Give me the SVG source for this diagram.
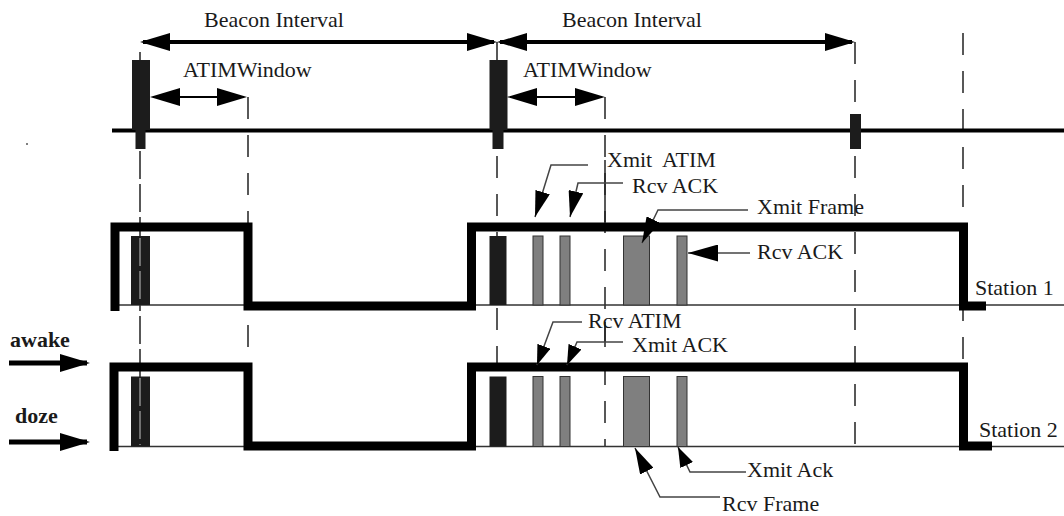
<svg xmlns="http://www.w3.org/2000/svg" width="1064" height="516" viewBox="0 0 1064 516">
<style>
  text { font-family: "Liberation Serif", "Times New Roman", serif; font-size: 22px; fill: #1a1a1a; white-space: pre; }
  .bold { font-weight: bold; font-size: 22px; }
  .guide { stroke: #222; stroke-width: 1.5; stroke-dasharray: 22 16; fill: none; }
  .solid { stroke: #222; stroke-width: 1.5; fill: none; }
  .wave { stroke: #000; stroke-width: 9; fill: none; stroke-linejoin: miter; }
  .base { stroke: #333; stroke-width: 1.5; }
  .beacon { fill: #1c1c1c; }
  .frame { fill: #7f7f7f; stroke: #333; stroke-width: 1; }
  .leader { stroke: #444; stroke-width: 1.5; fill: none; }
  .heavy { stroke: #000; stroke-width: 4; fill: none; }
  .thin { stroke: #000; stroke-width: 2; fill: none; }
</style>
<defs>
  <marker id="hd" markerUnits="userSpaceOnUse" viewBox="0 0 30 18" refX="27" refY="9" markerWidth="30" markerHeight="18" orient="auto-start-reverse">
    <path d="M0,0 L30,9 L0,18 z" fill="#000"/>
  </marker>
  <marker id="ld" markerUnits="userSpaceOnUse" viewBox="0 0 26 15" refX="26" refY="7.5" markerWidth="26" markerHeight="15" orient="auto">
    <path d="M0,0 L26,7.5 L0,15 z" fill="#000"/>
  </marker>
  <marker id="lb" markerUnits="userSpaceOnUse" viewBox="0 0 30 17" refX="30" refY="8.5" markerWidth="30" markerHeight="17" orient="auto">
    <path d="M0,0 L30,8.5 L0,17 z" fill="#000"/>
  </marker>
  <marker id="lds" markerUnits="userSpaceOnUse" viewBox="0 0 20 14" refX="20" refY="7" markerWidth="20" markerHeight="14" orient="auto">
    <path d="M0,0 L20,7 L0,14 z" fill="#000"/>
  </marker>
</defs>

<circle cx="27" cy="144" r="1" fill="#555"/>

<g id="guides">
  <line class="guide" x1="140" y1="52" x2="140" y2="446" style="stroke-dasharray:28 5"/>
  <line class="guide" x1="248" y1="97" x2="248" y2="446"/>
  <line class="guide" x1="497" y1="42" x2="497" y2="446"/>
  <line class="guide" x1="605" y1="97" x2="605" y2="446"/>
  <line class="solid" x1="605" y1="160" x2="605" y2="222"/>
  <line class="solid" x1="605" y1="322" x2="605" y2="342"/>
  <line class="guide" x1="855" y1="42" x2="855" y2="446"/>
  <line class="guide" x1="963" y1="33" x2="963" y2="365"/>
</g>

<g id="timeline">
  <line x1="112" y1="130.5" x2="1064" y2="130.5" stroke="#000" stroke-width="4"/>
  <rect class="beacon" x="132" y="60" width="18" height="70"/>
  <rect class="beacon" x="135.5" y="130" width="10" height="19"/>
  <rect class="beacon" x="489.5" y="60" width="18" height="70"/>
  <rect class="beacon" x="492.5" y="130" width="11" height="19"/>
  <rect class="beacon" x="850" y="114" width="11" height="35"/>
</g>

<g id="intervals">
  <line class="heavy" x1="143" y1="42" x2="494" y2="42" marker-start="url(#hd)" marker-end="url(#hd)"/>
  <text x="274" y="27" text-anchor="middle">Beacon Interval</text>
  <line class="heavy" x1="500" y1="42" x2="852" y2="42" marker-start="url(#hd)" marker-end="url(#hd)"/>
  <text x="632" y="27" text-anchor="middle">Beacon Interval</text>
  <line class="thin" x1="153" y1="97" x2="244" y2="97" marker-start="url(#hd)" marker-end="url(#hd)"/>
  <text x="183" y="77">ATIMWindow</text>
  <line class="thin" x1="510" y1="97" x2="602" y2="97" marker-start="url(#hd)" marker-end="url(#hd)"/>
  <text x="523" y="77">ATIMWindow</text>
</g>

<g id="station1">
  <line class="base" x1="112" y1="305" x2="1064" y2="305"/>
  <rect class="beacon" x="131" y="236" width="19" height="69"/>
  <rect class="beacon" x="489.5" y="236" width="17" height="69"/>
  <rect class="frame" x="533" y="236" width="10" height="69"/>
  <rect class="frame" x="560" y="236" width="10" height="69"/>
  <rect class="frame" x="623.5" y="236" width="26" height="69"/>
  <rect class="frame" x="677" y="236" width="10" height="69"/>
  <path class="wave" d="M115,311 V227 H248 V306 H471.5 V227 H963.5 V306 H986"/>
  <text x="975" y="295">Station 1</text>
</g>

<g id="station2">
  <line class="base" x1="112" y1="446.5" x2="1064" y2="446.5"/>
  <rect class="beacon" x="131" y="376.5" width="19" height="70"/>
  <rect class="beacon" x="489.5" y="376.5" width="17" height="70"/>
  <rect class="frame" x="533" y="376.5" width="10" height="70"/>
  <rect class="frame" x="560" y="376.5" width="10" height="70"/>
  <rect class="frame" x="623.5" y="376.5" width="26" height="70"/>
  <rect class="frame" x="677" y="376.5" width="10" height="70"/>
  <path class="wave" d="M114,451 V367 H248 V446 H471.5 V367 H963.5 V446 H992"/>
  <text x="979" y="437">Station 2</text>
</g>

<g id="beacon-line-overlay">
  <line x1="140" y1="238" x2="140" y2="304" stroke="#aaa" stroke-width="1.2" stroke-dasharray="28 5"/>
  <line x1="140" y1="378" x2="140" y2="445" stroke="#aaa" stroke-width="1.2" stroke-dasharray="28 5"/>
</g>

<g id="states">
  <line x1="9" y1="363" x2="87" y2="363" stroke="#000" stroke-width="5" marker-end="url(#hd)"/>
  <text class="bold" x="10" y="347">awake</text>
  <line x1="9" y1="442" x2="87" y2="442" stroke="#000" stroke-width="5" marker-end="url(#hd)"/>
  <text class="bold" x="15" y="423">doze</text>
</g>

<g id="connectors">
  <path class="leader" d="M588,165 H551 L535,217" marker-end="url(#ld)"/>
  <path class="leader" d="M623,183 H578 L570,217" marker-end="url(#ld)"/>
  <path class="leader" d="M748,210 H658 L642,243" marker-end="url(#ld)"/>
  <path class="leader" d="M750,253 H688" marker-end="url(#lb)"/>
  <path class="leader" d="M582,322 H553 L537,365" marker-end="url(#lds)"/>
  <path class="leader" d="M623,342 H577 L567,365" marker-end="url(#lds)"/>
  <path class="leader" d="M720,497 H660 L635,448" marker-end="url(#ld)"/>
  <path class="leader" d="M746,472 H690 L678,447" marker-end="url(#lds)"/>
</g>

<g id="labels">
  <text x="607" y="167">Xmit  ATIM</text>
  <text x="632" y="193">Rcv ACK</text>
  <text x="757" y="214">Xmit Frame</text>
  <text x="757" y="259">Rcv ACK</text>
  <text x="588" y="328">Rcv ATIM</text>
  <text x="632" y="352">Xmit ACK</text>
  <text x="747" y="477">Xmit Ack</text>
  <text x="722" y="511">Rcv Frame</text>
</g>
</svg>
